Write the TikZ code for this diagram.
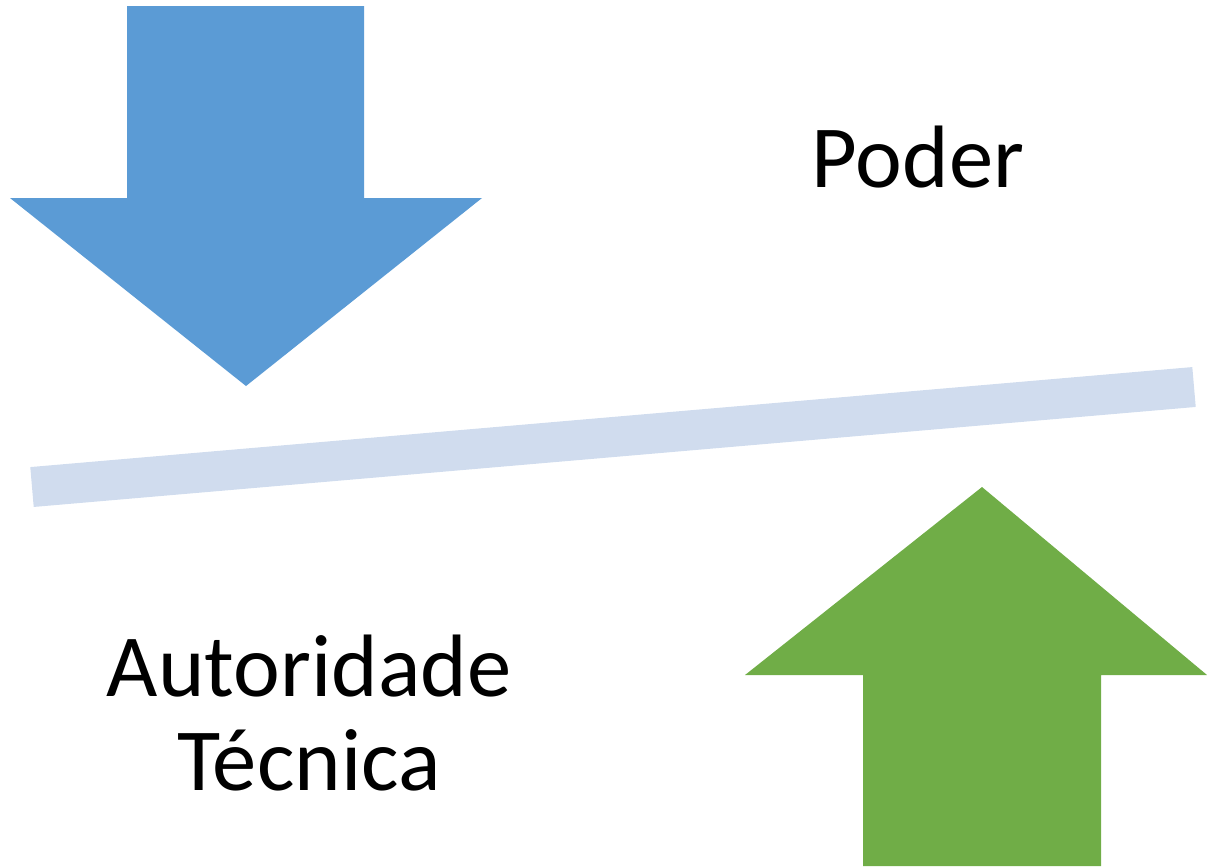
\documentclass[tikz,border=0pt]{standalone}
\usepackage{fontspec}
\setmainfont{Carlito}
\definecolor{arrBlue}{HTML}{5B9BD5}
\definecolor{arrGreen}{HTML}{70AD47}
\definecolor{barGray}{HTML}{D0DCEE}
\tikzstyle{tS}=[inner sep = 0pt, font=\fontsize{25.2}{26.8}\selectfont, align=center]
\tikzstyle{aB}=[fill=arrBlue, draw=none]
\tikzstyle{aG}=[fill=arrGreen, draw=none]
\tikzstyle{bS}=[draw=barGray, line width=0.4cm]
\begin{document}
\begin{tikzpicture}[x=0.01cm, y=-0.01cm]
                \useasboundingbox (0,0) rectangle (1207,866);
                % arrows
                \draw[aB] (127,6) -- (364,6) -- (364,198) -- (482,198) -- (246,386) -- (10,198) -- (127,198) -- cycle;
                \draw[aG] (863,866) -- (1101,866) -- (1101,675) -- (1207,675) -- (982,487) -- (745,675) -- (863,675) -- cycle;
                % bar
                \draw[bS] (32,487) -- (1194,387);
                % labels
                \draw (918,157) node[tS] (poder) {Poder};
                \draw (309,713) node[tS] (autoridade) {Autoridade\\T\'ecnica};
        \end{tikzpicture}
\end{document}
